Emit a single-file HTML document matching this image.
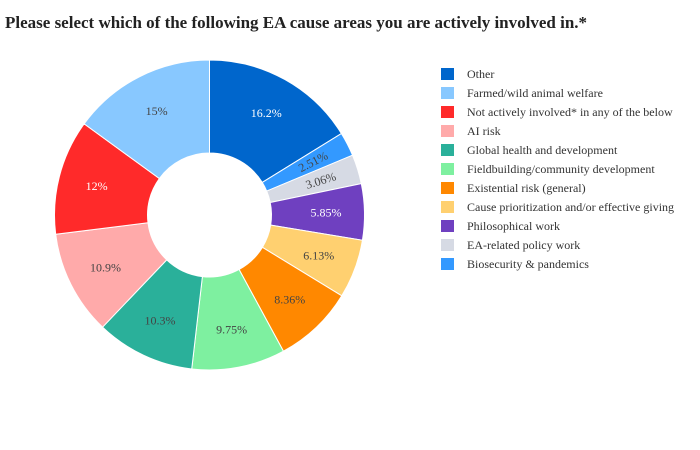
<!DOCTYPE html>
<html><head><meta charset="utf-8"><style>
body{margin:0;background:#fff;font-family:"Liberation Serif",serif;}
svg{display:block}
</style></head><body>
<svg width="700" height="450">
<text x="5" y="28" font-family="Liberation Serif" font-weight="bold" font-size="17" fill="#222">Please select which of the following EA cause areas you are actively involved in.*</text>
<g id="slices"></g>
<g id="legend"></g>
</svg>
<script>
const categories=["Other","Biosecurity & pandemics","EA-related policy work","Philosophical work","Cause prioritization and/or effective giving","Existential risk (general)","Fieldbuilding/community development","Global health and development","AI risk","Not actively involved* in any of the below","Farmed/wild animal welfare"];
const values=[16.2,2.51,3.06,5.85,6.13,8.36,9.75,10.3,10.9,12,15];
const valueLabels=["16.2%","2.51%","3.06%","5.85%","6.13%","8.36%","9.75%","10.3%","10.9%","12%","15%"];
const colors=["#0066cc","#3399ff","#d6dae4","#6f40c0","#ffd070","#ff8800","#7ef0a0","#2ab09a","#ffaaaa","#ff2a2a","#88c8ff"];
const textColors=["#fff","#444","#444","#fff","#444","#444","#444","#444","#444","#fff","#444"];
const legendOrder=[0,10,9,8,7,6,5,4,3,2,1];
const NS="http://www.w3.org/2000/svg";
const cx=209.5,cy=215,R=155,r=62;
const total=values.reduce((a,b)=>a+b,0);
function pt(rad,ang){return [cx+rad*Math.sin(ang),cy-rad*Math.cos(ang)];}
const g=document.getElementById('slices');
let a0=0;
values.forEach((v,i)=>{
  const a1=a0+v/total*2*Math.PI;
  const large=(a1-a0)>Math.PI?1:0;
  const [x0,y0]=pt(R,a0),[x1,y1]=pt(R,a1),[x2,y2]=pt(r,a1),[x3,y3]=pt(r,a0);
  const p=document.createElementNS(NS,'path');
  p.setAttribute('d',`M${x0},${y0}A${R},${R} 0 ${large} 1 ${x1},${y1}L${x2},${y2}A${r},${r} 0 ${large} 0 ${x3},${y3}Z`);
  p.setAttribute('fill',colors[i]);p.setAttribute('stroke','#fff');p.setAttribute('stroke-width','1');
  
  
  g.appendChild(p);
  const am=(a0+a1)/2;const [tx,ty]=pt((R+r)/2+8,am);
  const t=document.createElementNS(NS,'text');
  t.setAttribute('x',tx);t.setAttribute('y',ty+4);t.setAttribute('text-anchor','middle');
  t.setAttribute('font-size','12');t.setAttribute('fill',textColors[i]);t.setAttribute('font-family','Liberation Serif');
  if(v<4){let deg=am*180/Math.PI-90;t.setAttribute('transform',`rotate(${deg} ${tx} ${ty})`);}
  t.textContent=valueLabels[i];
  
  
  g.appendChild(t);
  a0=a1;
});
const lg=document.getElementById('legend');
legendOrder.forEach((idx,k)=>{
  const y=74+k*19;
  const rc=document.createElementNS(NS,'rect');
  rc.setAttribute('x',441);rc.setAttribute('y',y-6);rc.setAttribute('width',13);rc.setAttribute('height',12);rc.setAttribute('fill',colors[idx]);
  
  
  lg.appendChild(rc);
  const t=document.createElementNS(NS,'text');
  t.setAttribute('x',467);t.setAttribute('y',y+4);t.setAttribute('font-size','12');t.setAttribute('fill','#333');t.setAttribute('font-family','Liberation Serif');
  t.textContent=categories[idx];
  
  
  lg.appendChild(t);
});
</script>
</body></html>
